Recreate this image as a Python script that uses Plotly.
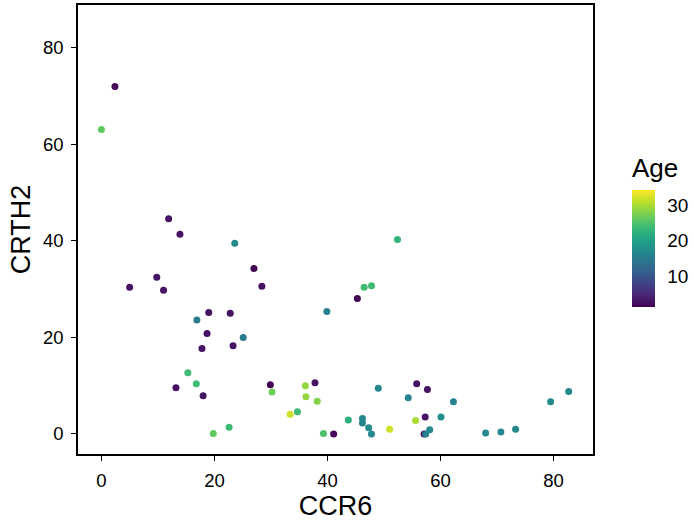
import plotly.graph_objects as go

ccr6 = [2.4, 0.0, 11.9, 13.9, 23.6, 5.0, 9.8, 11.0, 27.0, 28.4,
        39.9, 19.0, 22.8, 16.9, 18.7, 25.1, 17.8, 23.3, 15.3, 13.2,
        16.8, 18.0, 29.9, 30.2, 36.1, 37.8, 36.2, 38.2, 33.4, 34.7,
        19.8, 22.6, 39.3, 41.1, 52.4, 46.5, 47.8, 45.3, 49.0, 55.8,
        57.7, 54.3, 62.3, 79.5, 82.7, 43.7, 46.2, 46.2, 47.3, 47.8,
        51.0, 55.6, 57.3, 60.1, 57.1, 57.4, 58.1, 68.0, 70.7, 73.3]
crth2 = [72.0, 63.1, 44.6, 41.4, 39.5, 30.4, 32.5, 29.8, 34.3, 30.6,
         25.4, 25.2, 25.0, 23.6, 20.8, 20.0, 17.7, 18.3, 12.7, 9.6,
         10.4, 7.9, 10.2, 8.7, 10.0, 10.6, 7.7, 6.8, 4.1, 4.6,
         0.1, 1.4, 0.1, 0.0, 40.3, 30.4, 30.7, 28.1, 9.5, 10.4,
         9.2, 7.5, 6.7, 6.7, 8.8, 2.9, 3.2, 2.3, 1.3, 0.0,
         1.0, 2.8, 3.5, 3.5, 0.0, 0.0, 0.9, 0.2, 0.4, 1.0]
age = [2, 26, 3, 3, 17, 3, 3, 3, 1.5, 3,
       16, 3, 3, 15, 3, 15, 3, 3, 24, 3,
       24, 3, 1.5, 27, 29, 3, 29, 28, 32, 24,
       26, 24, 25, 2, 23, 24, 24, 1.5, 17, 3,
       3, 16, 16, 17, 17, 22, 17, 16, 17, 17,
       32, 30, 3, 18, 3, 16, 17, 17, 17, 17]

age_ticks = [10, 20, 30]
axis_ticks = [0, 20, 40, 60, 80]

fig = go.Figure(go.Scatter(
    x=ccr6, y=crth2, mode="markers",
    marker=dict(
        size=7, color=age, colorscale="Viridis", cmin=1.4, cmax=34.3,
        line=dict(width=0),
        colorbar=dict(
            title=dict(text="Age", side="top", font=dict(size=26, color="black")),
            tickvals=age_ticks, ticks="outside", tickcolor="rgba(255,255,255,0)", ticklen=9,
            tickfont=dict(size=19, color="black"),
            thickness=23, len=152, lenmode="pixels",
            x=1.0757, xanchor="left", xpad=0,
            y=0.328, yanchor="bottom", ypad=0,
            outlinewidth=0,
        ),
    ),
    showlegend=False,
))

# white tick marks drawn across the colour bar (ggplot style)
for t in age_ticks:
    yy = (0.328 * 449 + (t - 1.4) / (34.3 - 1.4) * 115) / 449
    for x0, x1 in [(632, 637), (651, 656)]:
        fig.add_shape(type="line", xref="paper", yref="paper",
                      x0=(x0 - 78) / 515, x1=(x1 - 78) / 515, y0=yy, y1=yy,
                      line=dict(color="white", width=1.2), layer="above")

axis_common = dict(
    showgrid=False, zeroline=False, showline=True, linecolor="black", linewidth=1.5,
    mirror=True, ticks="outside", ticklen=5, tickwidth=1.2, tickcolor="black",
    tickfont=dict(size=18.5, color="black"), automargin=False, ticklabelstandoff=4,
)

fig.update_layout(
    width=694, height=521,
    margin=dict(l=78, r=101, t=5, b=67),
    plot_bgcolor="white", paper_bgcolor="white",
    font=dict(family="Liberation Sans, Arial, sans-serif"),
    xaxis=dict(range=[-4.14, 87.0], tickvals=axis_ticks,
               title=dict(text="CCR6", font=dict(size=27, color="black"), standoff=4),
               **axis_common),
    yaxis=dict(range=[-4.15, 88.9], tickvals=axis_ticks,
               title=dict(text="CRTH2", font=dict(size=27, color="black"), standoff=5),
               **axis_common),
)

fig.write_html("out.html", config={"displayModeBar": False},
               post_script="document.body.style.margin='0';")
